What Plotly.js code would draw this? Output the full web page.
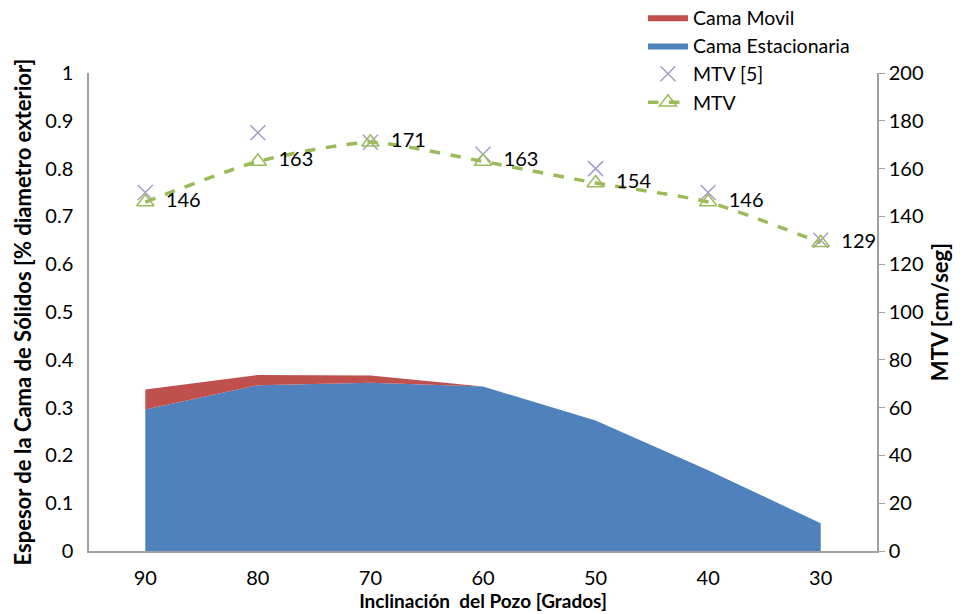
<!DOCTYPE html>
<html>
<head>
<meta charset="utf-8">
<script src="https://cdn.plot.ly/plotly-3.0.1.min.js"></script>
<style>html,body{margin:0;padding:0;background:#fff;}#chart{width:977px;height:614px;}</style>
</head>
<body>
<div id="chart"></div>
<script>
const categories = ["90", "80", "70", "60", "50", "40", "30"];
const camaEstacionaria = [0.296, 0.347, 0.352, 0.344, 0.273, 0.169, 0.058];
const camaMovil = [0.042, 0.021, 0.015, 0.0, 0.0, 0.0, 0.0];
const mtvRef = [150, 175, 171, 166, 160, 150, 130];
const mtv = [146, 163, 171, 163, 154, 146, 129];
const mtvLabels = mtv.map(v => "  " + v);

const font = "Lato, 'Open Sans', sans-serif";

const traces = [
  {
    x: categories, y: camaEstacionaria, name: "Cama Estacionaria",
    type: "scatter", mode: "lines", stackgroup: "bed",
    fillcolor: "#4F81BD", line: {width: 0, color: "#4F81BD"},
    legendrank: 2, hoverinfo: "y"
  },
  {
    x: categories, y: camaMovil, name: "Cama Movil",
    type: "scatter", mode: "lines", stackgroup: "bed",
    fillcolor: "#C0504D", line: {width: 0, color: "#C0504D"},
    legendrank: 1, hoverinfo: "y"
  },
  {
    x: categories, y: mtvRef, name: "MTV [5]", yaxis: "y2",
    type: "scatter", mode: "markers",
    marker: {symbol: "x-thin-open", size: 15, color: "#A99BC8", line: {width: 1.5, color: "#A99BC8"}},
    legendrank: 3
  },
  {
    x: categories, y: mtv, name: "MTV", yaxis: "y2",
    type: "scatter", mode: "lines+markers+text",
    line: {color: "#9BBB59", width: 3.5, dash: "dash", shape: "spline", smoothing: 0.6},
    marker: {symbol: "triangle-up-open", size: 15, color: "#9BBB59", line: {width: 1.5, color: "#9BBB59"}},
    text: mtvLabels, textposition: "middle right",
    textfont: {family: font, size: 20, color: "#000"},
    legendrank: 4
  }
];

const layout = {
  width: 977, height: 614,
  margin: {l: 89, r: 100, t: 73, b: 63, autoexpand: false},
  paper_bgcolor: "#fff", plot_bgcolor: "#fff",
  font: {family: font, size: 20, color: "#000"},
  showlegend: true,
  legend: {
    x: 0.703, xanchor: "left", y: 1.157, yanchor: "top",
    traceorder: "normal",
    bgcolor: "rgba(0,0,0,0)", font: {family: font, size: 19.5, color: "#000"},
    tracegroupgap: 0, itemwidth: 40
  },
  xaxis: {
    type: "category", range: [-0.5, 6.5],
    showline: true, linecolor: "#A0A0A0", linewidth: 1.5,
    showgrid: false, zeroline: false, ticks: "",
    tickfont: {family: font, size: 20}, ticklabelstandoff: 8,
    title: {text: "Inclinación  del Pozo [Grados]", font: {family: font, size: 19, weight: "bold"}, standoff: 0}
  },
  yaxis: {
    range: [0, 1], dtick: 0.1,
    showline: true, linecolor: "#A0A0A0", linewidth: 1.5,
    showgrid: false, zeroline: false, ticks: "",
    tickfont: {family: font, size: 20}, ticklabelstandoff: 10,
    title: {text: "Espesor de la Cama de Sólidos [% diametro exterior]", font: {family: font, size: 22, weight: "bold"}, standoff: 8}
  },
  yaxis2: {
    overlaying: "y", side: "right", range: [0, 200], dtick: 20,
    showline: true, linecolor: "#A0A0A0", linewidth: 1.5,
    showgrid: false, zeroline: false, ticks: "outside", ticklen: 6, tickcolor: "#A0A0A0",
    tickfont: {family: font, size: 20},
    title: {text: "MTV [cm/seg]", font: {family: font, size: 22, weight: "bold"}, standoff: 10}
  }
};

Plotly.newPlot("chart", traces, layout, {displayModeBar: false, responsive: false});
</script>
</body>
</html>
